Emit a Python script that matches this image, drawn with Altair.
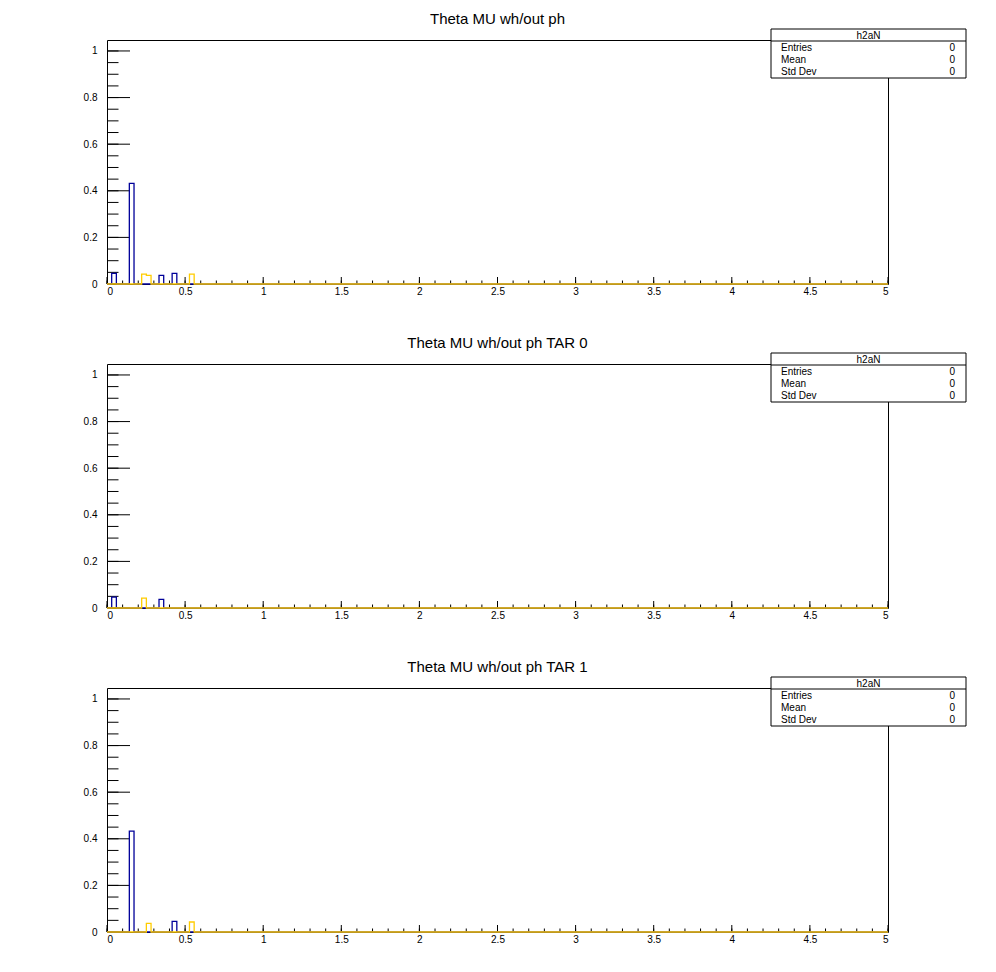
import altair as alt
import pandas as pd

# ---------------- data ----------------
BIN_W = 0.03
X_MAX = 5.0
Y_MAX = 1.047

titles = ["Theta MU wh/out ph", "Theta MU wh/out ph TAR 0", "Theta MU wh/out ph TAR 1"]

# non-empty bins per panel: (low edge, content)
blue_lo = [[0.030, 0.143, 0.333, 0.417], [0.030, 0.333], [0.143, 0.417]]
blue_val = [[0.046, 0.432, 0.037, 0.046], [0.047, 0.037], [0.433, 0.046]]
yellow_lo = [[0.222, 0.252, 0.528], [0.222], [0.252, 0.528]]
yellow_val = [[0.042, 0.037, 0.042], [0.042], [0.037, 0.043]]

stat_name = "h2aN"
stat_labels = ["Entries", "Mean", "Std Dev"]
stat_values = ["0", "0", "0"]

x_major = [0, 0.5, 1, 1.5, 2, 2.5, 3, 3.5, 4, 4.5, 5]
x_minor = [round(i * 0.1, 2) for i in range(51)]
y_major = [0, 0.2, 0.4, 0.6, 0.8, 1]
y_minor = [round(i * 0.05, 2) for i in range(21)]

BLUE = "#000099"
YELLOW = "#ffcc00"
FONT = "Liberation Sans"
W, H = 781, 244


def step_points(los, vals):
    pts = [(0.0, 0.0)]
    prev_hi = None
    for lo, v in sorted(zip(los, vals)):
        if prev_hi is not None and abs(lo - prev_hi) > 1e-6:
            pts.append((prev_hi, 0.0))
        pts.append((lo, v))
        prev_hi = lo + BIN_W
    if prev_hi is not None:
        pts.append((prev_hi, 0.0))
    pts.append((X_MAX, 0.0))
    return pd.DataFrame({"x": [p[0] for p in pts], "y": [p[1] for p in pts], "i": range(len(pts))})


xs = alt.Scale(domain=[0, X_MAX], nice=False, zero=False)
ys = alt.Scale(domain=[0, Y_MAX], nice=False, zero=False)


def panel(k):
    base_x = alt.X("x:Q", scale=xs, axis=alt.Axis(values=x_major, format="~g", title=None, domain=False,
                                                  ticks=False, grid=False, labelPadding=2, labelFont=FONT,
                                                  labelFontSize=10, labelColor="black"))
    base_y = alt.Y("y:Q", scale=ys, axis=alt.Axis(values=y_major, format="~g", title=None, domain=False,
                                                  ticks=False, grid=False, labelPadding=10, labelFont=FONT,
                                                  labelFontSize=10, labelColor="black"))
    blue = alt.Chart(step_points(blue_lo[k], blue_val[k])).mark_line(
        interpolate="step-after", color=BLUE, strokeWidth=1.3).encode(x=base_x, y=base_y, order="i:Q")
    yellow = alt.Chart(step_points(yellow_lo[k], yellow_val[k])).mark_line(
        interpolate="step-after", color=YELLOW, strokeWidth=1.3).encode(x="x:Q", y="y:Q", order="i:Q")

    xt_major = alt.Chart(pd.DataFrame({"x": x_major})).mark_rule(color="black", strokeWidth=1).encode(
        x="x:Q", y=alt.value(H), y2=alt.value(H - 7))
    xt_minor = alt.Chart(pd.DataFrame({"x": x_minor})).mark_rule(color="black", strokeWidth=1).encode(
        x="x:Q", y=alt.value(H), y2=alt.value(H - 3.5))
    yt_major = alt.Chart(pd.DataFrame({"y": y_major})).mark_rule(color="black", strokeWidth=1).encode(
        y="y:Q", x=alt.value(0), x2=alt.value(23))
    yt_minor = alt.Chart(pd.DataFrame({"y": y_minor})).mark_rule(color="black", strokeWidth=1).encode(
        y="y:Q", x=alt.value(0), x2=alt.value(11.5))

    title = alt.Chart(pd.DataFrame({"t": [titles[k]]})).mark_text(
        font=FONT, fontSize=15, color="black", align="center", baseline="middle").encode(
        text="t:N", x=alt.value(W / 2), y=alt.value(-21))

    box = alt.Chart(pd.DataFrame({"a": [0]})).mark_rect(fill="white", stroke="black", strokeWidth=1).encode(
        x=alt.value(664), x2=alt.value(859), y=alt.value(-11), y2=alt.value(38))
    sep = alt.Chart(pd.DataFrame({"a": [0]})).mark_rule(color="black", strokeWidth=1).encode(
        x=alt.value(664), x2=alt.value(859), y=alt.value(1))
    head = alt.Chart(pd.DataFrame({"t": [stat_name]})).mark_text(
        font=FONT, fontSize=10, color="black", align="center", baseline="middle").encode(
        text="t:N", x=alt.value(761.5), y=alt.value(-4.5))
    sdf = pd.DataFrame({"l": stat_labels, "v": stat_values, "yy": [7.5, 19.5, 32]})
    slab = alt.Chart(sdf).mark_text(font=FONT, fontSize=10, color="black", align="left",
                                    baseline="middle").encode(text="l:N", x=alt.value(674),
                                                              y=alt.Y("yy:Q", scale=None, axis=None))
    sval = alt.Chart(sdf).mark_text(font=FONT, fontSize=10, color="black", align="right",
                                    baseline="middle").encode(text="v:N", x=alt.value(848),
                                                              y=alt.Y("yy:Q", scale=None, axis=None))

    return alt.layer(yt_minor, yt_major, xt_minor, xt_major, blue, yellow, title, box, sep, head, slab, sval
                     ).properties(width=W, height=H)


chart = alt.vconcat(panel(0), panel(1), panel(2), spacing=80, bounds="flush").properties(
    padding={"left": 82, "top": 11, "right": 0, "bottom": 0},
    background="white",
).configure_view(stroke="black", strokeWidth=1)

chart.save("out.html", embed_options={"renderer": "svg", "actions": False})
